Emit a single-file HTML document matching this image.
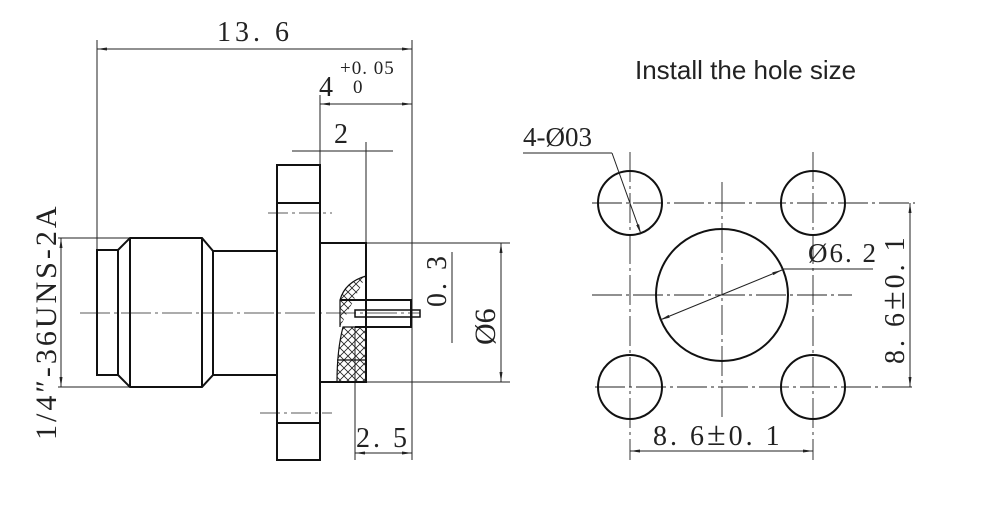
<!DOCTYPE html>
<html><head><meta charset="utf-8"><style>
html,body{margin:0;padding:0;background:#fff;width:1000px;height:512px;overflow:hidden}
svg text{font-family:"Liberation Serif","Noto Serif CJK SC",serif;fill:#222}
</style></head><body>
<svg width="1000" height="512" viewBox="0 0 1000 512" xmlns="http://www.w3.org/2000/svg">
<defs>
<pattern id="h" width="8" height="8" patternUnits="userSpaceOnUse"><path d="M0 0L8 8M8 0L0 8" stroke="#222" stroke-width="0.8"/></pattern>
<marker id="a" markerWidth="10" markerHeight="6" refX="10" refY="3" orient="auto-start-reverse" markerUnits="userSpaceOnUse"><path d="M0 1.5L10 3L0 4.5Z" fill="#222"/></marker>
</defs>
<g stroke="#222" fill="none" stroke-width="1">
<line x1="97" y1="40" x2="97" y2="250"/>
<line x1="412" y1="40" x2="412" y2="460"/>
<line x1="97" y1="49" x2="412" y2="49" marker-start="url(#a)" marker-end="url(#a)"/>
<line x1="320" y1="95" x2="320" y2="165"/>
<line x1="320" y1="104" x2="412" y2="104" marker-start="url(#a)" marker-end="url(#a)"/>
<line x1="366" y1="142" x2="366" y2="298"/>
<line x1="292" y1="151" x2="393" y2="151"/>
<line x1="58" y1="238" x2="130" y2="238"/>
<line x1="58" y1="387" x2="130" y2="387"/>
<line x1="61" y1="238" x2="61" y2="387" marker-start="url(#a)" marker-end="url(#a)"/>
<line x1="366" y1="243" x2="510" y2="243"/>
<line x1="366" y1="382" x2="510" y2="382"/>
<line x1="501" y1="243" x2="501" y2="382" marker-start="url(#a)" marker-end="url(#a)"/>
<line x1="452" y1="252" x2="452" y2="343"/>
<line x1="355" y1="327" x2="355" y2="460"/>
<line x1="355" y1="453" x2="412" y2="453" marker-start="url(#a)" marker-end="url(#a)"/>
<line x1="80" y1="313" x2="420" y2="313" stroke-dasharray="30 4 3 4" stroke-width="0.8"/>
<line x1="268" y1="213" x2="332" y2="213" stroke-dasharray="20 4 3 4" stroke-width="0.8"/>
<line x1="260" y1="413" x2="332" y2="413" stroke-dasharray="20 4 3 4" stroke-width="0.8"/>
</g>
<g stroke="#111" fill="none" stroke-width="2">
<rect x="97" y="250" width="21" height="125"/>
<path d="M118 250L130 238H202L213 251V375L202 387H130L118 375Z"/>
<line x1="130" y1="238" x2="130" y2="387"/>
<line x1="202" y1="238" x2="202" y2="387"/>
<line x1="213" y1="251" x2="277" y2="251"/>
<line x1="213" y1="375" x2="277" y2="375"/>
<rect x="277" y="165" width="43" height="295"/>
<line x1="277" y1="203" x2="320" y2="203"/>
<line x1="277" y1="423" x2="320" y2="423"/>
<path d="M320 243H366V382H320"/>
<path d="M366 276Q345 282 340 300V327" fill="url(#h)" stroke-width="1.2"/>
<path d="M340 300H411V327H355"/>
<rect x="355" y="310" width="65" height="7" stroke-width="1.5"/>
<path d="M355 327H366V382H337Q337 350 343 327Z" fill="url(#h)" stroke-width="1.2"/>
<line x1="337" y1="360" x2="366" y2="360" stroke-width="1.2"/>
</g>
<text x="255" y="41" font-size="28" text-anchor="middle" letter-spacing="4">13. 6</text>
<text x="319" y="96" font-size="28">4</text>
<text x="340" y="74" font-size="19" letter-spacing="1">+0. 05</text>
<text x="353" y="93" font-size="19">0</text>
<text x="334" y="143" font-size="28">2</text>
<text x="356" y="447" font-size="28" letter-spacing="3">2. 5</text>
<text font-size="30" transform="translate(56,440) rotate(-90)" letter-spacing="3">1/4″-36UNS-2A</text>
<text font-size="28" transform="translate(446,307) rotate(-90)" letter-spacing="3">0. 3</text>
<text font-size="30" transform="translate(495,345) rotate(-90)">Ø6</text>

<g stroke="#222" fill="none" stroke-width="0.9" stroke-dasharray="30 4 3 4">
<line x1="630" y1="152" x2="630" y2="460"/>
<line x1="813" y1="152" x2="813" y2="460"/>
<line x1="722" y1="182" x2="722" y2="420"/>
<line x1="592" y1="203" x2="915" y2="203"/>
<line x1="595" y1="387" x2="915" y2="387"/>
<line x1="592" y1="295" x2="852" y2="295"/>
</g>
<g stroke="#111" fill="none" stroke-width="2">
<circle cx="630" cy="203" r="32"/>
<circle cx="813" cy="203" r="32"/>
<circle cx="630" cy="387" r="32"/>
<circle cx="813" cy="387" r="32"/>
<circle cx="722" cy="295" r="66"/>
</g>
<g stroke="#222" fill="none" stroke-width="1">
<line x1="910" y1="203" x2="910" y2="387" marker-start="url(#a)" marker-end="url(#a)"/>
<line x1="630" y1="451" x2="813" y2="451" marker-start="url(#a)" marker-end="url(#a)"/>
<line x1="660" y1="320" x2="782" y2="270" marker-start="url(#a)" marker-end="url(#a)"/>
<line x1="782" y1="269" x2="873" y2="269"/>
<line x1="523" y1="153" x2="612" y2="153"/>
<line x1="612" y1="153" x2="641" y2="234" marker-end="url(#a)"/>
</g>
<text x="653" y="445" font-size="28" letter-spacing="3">8. 6<tspan font-size="34">±</tspan>0. 1</text>
<text font-size="28" transform="translate(904,364) rotate(-90)" letter-spacing="3">8. 6<tspan font-size="34">±</tspan>0. 1</text>
<text x="808" y="262" font-size="27" letter-spacing="2">Ø6. 2</text>
<text x="523" y="146" font-size="27">4-Ø03</text>
<text x="635" y="79" font-size="26" style="font-family:'Liberation Sans',sans-serif">Install the hole size</text>
</svg>
</body></html>
